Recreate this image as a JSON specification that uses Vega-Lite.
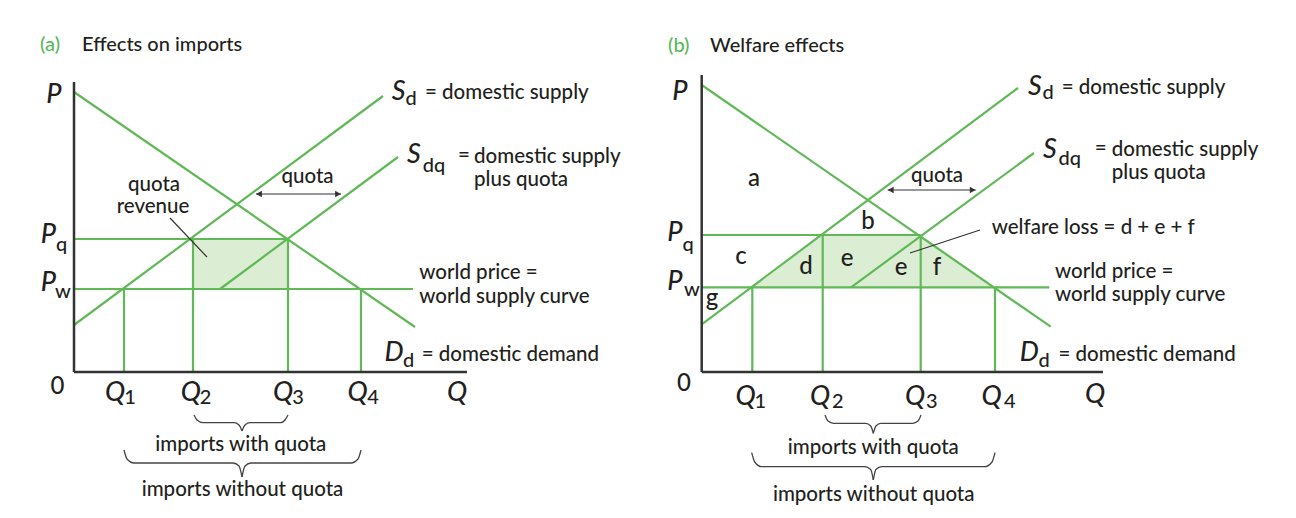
{
"$schema": "https://vega.github.io/schema/vega-lite/v6.json",
"padding": 0,
"spacing": 0,
"bounds": "flush",
"background": "white",
"config": {"view": {"stroke": null}},
"datasets": {
"fillA": [{"q":119,"p":133,"p2":83},{"q":214,"p":133,"p2":83}],
"greenA": [
{"curve":"Dd","q":0,"p":280,"q2":341,"p2":45},
{"curve":"Sd","q":0,"p":47,"q2":309,"p2":276},
{"curve":"Sdq","q":146,"p":83,"q2":324,"p2":215},
{"curve":"Pw","q":0,"p":83,"q2":339,"p2":83},
{"curve":"Pq","q":0,"p":133,"q2":214,"p2":133},
{"curve":"Q1","q":50,"p":0,"q2":50,"p2":83},
{"curve":"Q2","q":119,"p":0,"q2":119,"p2":133},
{"curve":"Q3","q":214,"p":0,"q2":214,"p2":133},
{"curve":"Q4","q":287,"p":0,"q2":287,"p2":83}],
"axesA": [{"q":0,"p":0,"q2":0,"p2":290},{"q":0,"p":0,"q2":393,"p2":0}],
"thinA": [{"q":96,"p":154,"q2":133,"p2":115},{"q":182,"p":178,"q2":267,"p2":178}],
"headsA": [{"q":185,"p":178,"dir":"l"},{"q":264,"p":178,"dir":"r"}],
"bracesA": [
{"id":"s1","q":120,"p":-43},{"id":"s1","q":123,"p":-48},{"id":"s1","q":129,"p":-50.7},{"id":"s1","q":160,"p":-50.7},{"id":"s1","q":165,"p":-53},{"id":"s1","q":168,"p":-59},
{"id":"s2","q":168,"p":-59},{"id":"s2","q":171,"p":-53},{"id":"s2","q":176,"p":-50.7},{"id":"s2","q":207,"p":-50.7},{"id":"s2","q":211,"p":-48},{"id":"s2","q":214,"p":-43},
{"id":"l1","q":50,"p":-78},{"id":"l1","q":53,"p":-87},{"id":"l1","q":60,"p":-91},{"id":"l1","q":159,"p":-91},{"id":"l1","q":165,"p":-94},{"id":"l1","q":168,"p":-105},
{"id":"l2","q":168,"p":-105},{"id":"l2","q":171,"p":-94},{"id":"l2","q":177,"p":-91},{"id":"l2","q":277,"p":-91},{"id":"l2","q":284,"p":-87},{"id":"l2","q":287,"p":-78}],
"symA": [
{"t":"P","q":-20,"p":277},{"t":"P","q":-25.7,"p":137},{"t":"P","q":-25.7,"p":89},
{"t":"Q","q":41,"p":-20.5},{"t":"Q","q":116.8,"p":-20.5},{"t":"Q","q":209,"p":-20.5},{"t":"Q","q":283.5,"p":-20.5},
{"t":"Q","q":383,"p":-21},{"t":"S","q":324.7,"p":280},{"t":"S","q":340,"p":217},{"t":"D","q":320,"p":18.7}],
"subA": [
{"t":"q","q":-12.3,"p":127},{"t":"w","q":-11,"p":80},
{"t":"1","q":56,"p":-26},{"t":"2","q":131.5,"p":-26},{"t":"3","q":224,"p":-26},{"t":"4","q":299,"p":-26},
{"t":"d","q":337,"p":273},{"t":"dq","q":360,"p":206},{"t":"d","q":334.5,"p":11}],
"leftA": [
{"t":"= domestic supply","q":351,"p":279},
{"t":"=","q":384,"p":216},
{"t":"domestic supply","q":400,"p":215},
{"t":"plus quota","q":400,"p":192},
{"t":"world price =","q":345.3,"p":98.7},
{"t":"world supply curve","q":345.3,"p":74.7},
{"t":"= domestic demand","q":347.7,"p":17}],
"centerA": [
{"t":"quota","q":80,"p":187},{"t":"revenue","q":79,"p":165},
{"t":"quota","q":233.5,"p":195},
{"t":"imports with quota","q":166.8,"p":-73},
{"t":"imports without quota","q":168.5,"p":-118}],
"zeroA": [{"t":"0","q":-16.5,"p":-14.7}],
"tagA": [{"t":"(a)","q":-34,"p":327}],
"titleA": [{"t":"Effects on imports","q":8,"p":327}],
"fillB": [{"q":50.6,"p":84.7,"p2":84.7},{"q":121,"p":137,"p2":84.7},{"q":219,"p":137,"p2":84.7},{"q":293.3,"p":84.7,"p2":84.7}],
"greenB": [
{"curve":"Dd","q":0,"p":287,"q2":349,"p2":45.3},
{"curve":"Sd","q":0,"p":47.7,"q2":316.3,"p2":284},
{"curve":"Sdq","q":149.3,"p":84.7,"q2":332.3,"p2":219},
{"curve":"Pw","q":0,"p":84.7,"q2":347.6,"p2":84.7},
{"curve":"Pq","q":0,"p":137,"q2":219,"p2":137},
{"curve":"Q1","q":50.6,"p":0,"q2":50.6,"p2":84.7},
{"curve":"Q2","q":121,"p":0,"q2":121,"p2":137},
{"curve":"Q3","q":219,"p":0,"q2":219,"p2":137},
{"curve":"Q4","q":293.3,"p":0,"q2":293.3,"p2":84.7}],
"axesB": [{"q":0,"p":0,"q2":0,"p2":297},{"q":0,"p":0,"q2":401.3,"p2":0}],
"thinB": [{"q":278.3,"p":142,"q2":208.3,"p2":119},{"q":186,"p":182,"q2":274,"p2":182}],
"headsB": [{"q":189,"p":182,"dir":"l"},{"q":271,"p":182,"dir":"r"}],
"bracesB": [
{"id":"s1","q":123.3,"p":-43},{"id":"s1","q":126.3,"p":-49},{"id":"s1","q":132,"p":-51.3},{"id":"s1","q":164,"p":-51.3},{"id":"s1","q":169,"p":-54},{"id":"s1","q":171.6,"p":-61.3},
{"id":"s2","q":171.6,"p":-61.3},{"id":"s2","q":174.2,"p":-54},{"id":"s2","q":179,"p":-51.3},{"id":"s2","q":211,"p":-51.3},{"id":"s2","q":216.3,"p":-49},{"id":"s2","q":219.3,"p":-43},
{"id":"l1","q":50,"p":-80.7},{"id":"l1","q":53,"p":-90},{"id":"l1","q":60,"p":-94.7},{"id":"l1","q":163,"p":-94.7},{"id":"l1","q":169,"p":-97.5},{"id":"l1","q":171.6,"p":-108},
{"id":"l2","q":171.6,"p":-108},{"id":"l2","q":174.2,"p":-97.5},{"id":"l2","q":180,"p":-94.7},{"id":"l2","q":283,"p":-94.7},{"id":"l2","q":290.3,"p":-90},{"id":"l2","q":293.3,"p":-80.7}],
"symB": [
{"t":"P","q":-21.7,"p":280},{"t":"P","q":-26.7,"p":139},{"t":"P","q":-26.7,"p":90},
{"t":"Q","q":44,"p":-25},{"t":"Q","q":118.3,"p":-25},{"t":"Q","q":213.3,"p":-25},{"t":"Q","q":290,"p":-25},
{"t":"Q","q":393.3,"p":-23},{"t":"S","q":333.1,"p":285},{"t":"S","q":348.3,"p":222},{"t":"D","q":327.5,"p":18.7}],
"subB": [
{"t":"q","q":-13.7,"p":127},{"t":"w","q":-9.7,"p":82},
{"t":"1","q":58.5,"p":-29.7},{"t":"2","q":136,"p":-29.7},{"t":"3","q":230,"p":-29.7},{"t":"4","q":308,"p":-29.7},
{"t":"d","q":346.3,"p":279},{"t":"dq","q":368.1,"p":213},{"t":"d","q":342.3,"p":11}],
"leftB": [
{"t":"= domestic supply","q":360,"p":284},
{"t":"=","q":393,"p":223},
{"t":"domestic supply","q":410,"p":222},
{"t":"plus quota","q":410,"p":198.7},
{"t":"welfare loss = d + e + f","q":290,"p":143.7},
{"t":"world price =","q":353.3,"p":100.3},
{"t":"world supply curve","q":353.3,"p":77},
{"t":"= domestic demand","q":356.7,"p":17}],
"centerB": [
{"t":"quota","q":235.3,"p":196},
{"t":"imports with quota","q":171.6,"p":-76.3},
{"t":"imports without quota","q":172,"p":-123}],
"regionB": [
{"t":"a","q":52.3,"p":193},{"t":"b","q":166.3,"p":150},{"t":"c","q":39.3,"p":115},{"t":"d","q":104.3,"p":105},
{"t":"e","q":145.3,"p":113},{"t":"e","q":199.3,"p":104},{"t":"f","q":235.3,"p":104},{"t":"g","q":10.3,"p":73}],
"zeroB": [{"t":"0","q":-17.7,"p":-12}],
"tagB": [{"t":"(b)","q":-33.7,"p":326}],
"titleB": [{"t":"Welfare effects","q":8.3,"p":326}]
},
"hconcat": [
{
"width": 648, "height": 518,
"encoding": {
"x": {"field":"q","type":"quantitative","scale":{"domain":[-74,574],"nice":false,"zero":false},"axis":null},
"y": {"field":"p","type":"quantitative","scale":{"domain":[-146,372],"nice":false,"zero":false},"axis":null}
},
"layer": [
{"data":{"name":"fillA"},"mark":{"type":"area","color":"#dbedd2","opacity":1},"encoding":{"y":{"field":"p","type":"quantitative","stack":null},"y2":{"field":"p2"}}},
{"data":{"name":"greenA"},"mark":{"type":"rule","color":"#60b857","strokeWidth":2.2},"encoding":{"x2":{"field":"q2"},"y2":{"field":"p2"}}},
{"data":{"name":"axesA"},"mark":{"type":"rule","color":"#333333","strokeWidth":2.5},"encoding":{"x2":{"field":"q2"},"y2":{"field":"p2"}}},
{"data":{"name":"thinA"},"mark":{"type":"rule","color":"#333333","strokeWidth":1.2},"encoding":{"x2":{"field":"q2"},"y2":{"field":"p2"}}},
{"data":{"name":"headsA"},"mark":{"type":"point","filled":true,"color":"#333333","opacity":1,"size":45},"encoding":{"shape":{"field":"dir","type":"nominal","scale":{"domain":["l","r"],"range":["triangle-left","triangle-right"]},"legend":null}}},
{"data":{"name":"bracesA"},"mark":{"type":"line","interpolate":"monotone","color":"#444444","strokeWidth":1.3},"encoding":{"detail":{"field":"id"}}},
{"data":{"name":"symA"},"mark":{"type":"text","font":"Lato","fontStyle":"italic","fontWeight":500,"fontSize":27,"color":"#231f20","align":"center","baseline":"middle"},"encoding":{"text":{"field":"t"}}},
{"data":{"name":"subA"},"mark":{"type":"text","font":"Lato","fontWeight":500,"fontSize":20,"color":"#231f20","align":"center","baseline":"middle"},"encoding":{"text":{"field":"t"}}},
{"data":{"name":"leftA"},"mark":{"type":"text","font":"Lato","fontWeight":500,"fontSize":20.5,"color":"#231f20","align":"left","baseline":"middle"},"encoding":{"text":{"field":"t"}}},
{"data":{"name":"centerA"},"mark":{"type":"text","font":"Lato","fontWeight":500,"fontSize":20.5,"color":"#231f20","align":"center","baseline":"middle"},"encoding":{"text":{"field":"t"}}},
{"data":{"name":"zeroA"},"mark":{"type":"text","font":"Lato","fontWeight":500,"fontSize":24,"color":"#231f20","align":"center","baseline":"middle"},"encoding":{"text":{"field":"t"}}},
{"data":{"name":"tagA"},"mark":{"type":"text","font":"Lato","fontWeight":500,"fontSize":20,"color":"#5cb85c","align":"left","baseline":"middle"},"encoding":{"text":{"field":"t"}}},
{"data":{"name":"titleA"},"mark":{"type":"text","font":"Lato","fontWeight":500,"fontSize":20,"color":"#231f20","align":"left","baseline":"middle"},"encoding":{"text":{"field":"t"}}}
]
},
{
"width": 648, "height": 518,
"encoding": {
"x": {"field":"q","type":"quantitative","scale":{"domain":[-53.7,594.3],"nice":false,"zero":false},"axis":null},
"y": {"field":"p","type":"quantitative","scale":{"domain":[-146,372],"nice":false,"zero":false},"axis":null}
},
"layer": [
{"data":{"name":"fillB"},"mark":{"type":"area","color":"#dbedd2","opacity":1},"encoding":{"y":{"field":"p","type":"quantitative","stack":null},"y2":{"field":"p2"}}},
{"data":{"name":"greenB"},"mark":{"type":"rule","color":"#60b857","strokeWidth":2.2},"encoding":{"x2":{"field":"q2"},"y2":{"field":"p2"}}},
{"data":{"name":"axesB"},"mark":{"type":"rule","color":"#333333","strokeWidth":2.5},"encoding":{"x2":{"field":"q2"},"y2":{"field":"p2"}}},
{"data":{"name":"thinB"},"mark":{"type":"rule","color":"#333333","strokeWidth":1.2},"encoding":{"x2":{"field":"q2"},"y2":{"field":"p2"}}},
{"data":{"name":"headsB"},"mark":{"type":"point","filled":true,"color":"#333333","opacity":1,"size":45},"encoding":{"shape":{"field":"dir","type":"nominal","scale":{"domain":["l","r"],"range":["triangle-left","triangle-right"]},"legend":null}}},
{"data":{"name":"bracesB"},"mark":{"type":"line","interpolate":"monotone","color":"#444444","strokeWidth":1.3},"encoding":{"detail":{"field":"id"}}},
{"data":{"name":"symB"},"mark":{"type":"text","font":"Lato","fontStyle":"italic","fontWeight":500,"fontSize":27,"color":"#231f20","align":"center","baseline":"middle"},"encoding":{"text":{"field":"t"}}},
{"data":{"name":"subB"},"mark":{"type":"text","font":"Lato","fontWeight":500,"fontSize":20,"color":"#231f20","align":"center","baseline":"middle"},"encoding":{"text":{"field":"t"}}},
{"data":{"name":"leftB"},"mark":{"type":"text","font":"Lato","fontWeight":500,"fontSize":20.5,"color":"#231f20","align":"left","baseline":"middle"},"encoding":{"text":{"field":"t"}}},
{"data":{"name":"centerB"},"mark":{"type":"text","font":"Lato","fontWeight":500,"fontSize":20.5,"color":"#231f20","align":"center","baseline":"middle"},"encoding":{"text":{"field":"t"}}},
{"data":{"name":"regionB"},"mark":{"type":"text","font":"Lato","fontWeight":500,"fontSize":24,"color":"#231f20","align":"center","baseline":"middle"},"encoding":{"text":{"field":"t"}}},
{"data":{"name":"zeroB"},"mark":{"type":"text","font":"Lato","fontWeight":500,"fontSize":24,"color":"#231f20","align":"center","baseline":"middle"},"encoding":{"text":{"field":"t"}}},
{"data":{"name":"tagB"},"mark":{"type":"text","font":"Lato","fontWeight":500,"fontSize":20,"color":"#5cb85c","align":"left","baseline":"middle"},"encoding":{"text":{"field":"t"}}},
{"data":{"name":"titleB"},"mark":{"type":"text","font":"Lato","fontWeight":500,"fontSize":20,"color":"#231f20","align":"left","baseline":"middle"},"encoding":{"text":{"field":"t"}}}
]
}
]
}
